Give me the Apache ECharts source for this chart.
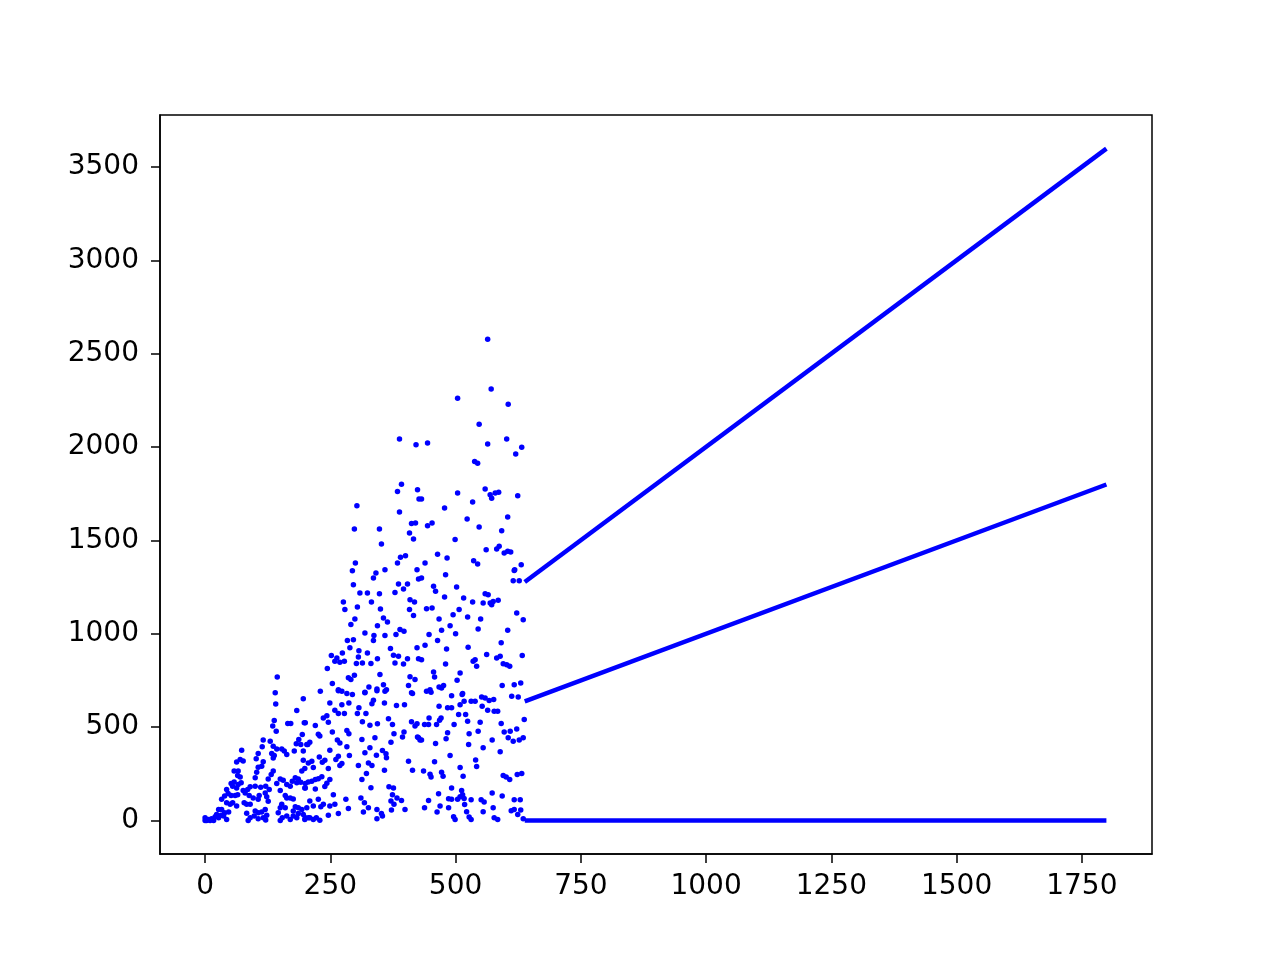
<!DOCTYPE html>
<html>
<head>
<meta charset="utf-8">
<script src="https://cdn.jsdelivr.net/npm/echarts@6/dist/echarts.min.js"></script>
<style>html,body{margin:0;padding:0;background:#fff;}#chart{width:1280px;height:960px;}</style>
</head>
<body>
<div id="chart"></div>
<script>
// Scattered points (x, y)
const scatterPoints = [
[140,683],[141,624],[196,651],[183,589],[138,535],[135,505],[165,519],[171,519],[198,523],[142,478],[194,460],[116,430],[130,424],[187,433],[182,410],[191,406],[114,394],[136,397],[143,383],[153,383],[158,371],[163,353],[178,371],[73,376],[106,358],[133,358],[138,347],[136,334],[196,371],[205,406],[102,330],[116,314],[63,313],[76,318],[70,326],[196,322],[106,285],[113,290],[136,264],[132,246],[126,222],[58,264],[66,264],[103,258],[193,264],[199,278],[100,228],[65,240],[70,233],[150,222],[156,215],[163,192],[170,183],[174,210],[180,228],[186,222],[183,201],[191,204],[143,198],[72,201],[58,205],[52,198],[55,183],[63,174],[66,192],[100,183],[111,178],[121,183],[128,165],[120,147],[85,165],[90,180],[76,160],[80,147],[43,165],[46,144],[52,133],[60,133],[65,138],[150,160],[160,133],[170,120],[176,115],[163,120],[199,174],[108,133],[88,133],[96,120],[106,113],[123,127],[126,103],[33,113],[39,131],[43,95],[50,86],[55,95],[78,95],[83,86],[90,86],[153,86],[150,68],[160,68],[180,73],[186,68],[193,59],[203,68],[176,50],[63,77],[33,59],[27,59],[39,41],[47,45],[23,32],[32,27],[100,50],[106,41],[113,45],[120,59],[83,38],[90,14],[86,0],[98,23],[106,9],[116,14],[123,27],[121,2],[146,41],[154,14],[150,0],[163,23],[170,5],[176,23],[183,14],[186,37],[196,32],[199,5],[206,14],[0,14],[7,5],[13,9],[20,20],[27,14],[37,23],[43,5],[10,0],[3,0],[0,0],[17,0],
[144,768],
[230,692],[266,695],[283,679],[294,674],[319,683],[343,695],[359,692],[414,679],[249,629],[273,620],[287,629],[259,590],[266,572],[278,572],[307,603],[304,572],[321,572],[336,643],[333,625],[358,629],[382,615],[398,620],[236,549],[243,561],[246,526],[220,508],[314,528],[329,510],[344,517],[366,544],[374,514],[412,528],[419,505],[200,523],[254,473],[226,461],[229,452],[283,482],[287,464],[313,433],[339,442],[377,464],[397,473],[394,447],[371,419],[424,446],[429,430],[209,419],[203,406],[264,430],[269,415],[283,394],[329,389],[319,362],[354,375],[361,357],[362,335],[342,349],[249,376],[288,347],[266,344],[261,326],[273,305],[269,294],[228,339],[239,322],[234,312],[213,317],[206,308],[246,278],[216,283],[306,294],[326,308],[333,294],[358,269],[322,251],[313,219],[406,317],[414,269],
[233,234],[226,223],[220,219],[213,210],[206,205],[200,198],
[249,219],[243,199],[239,182],[220,168],[200,174],[331,175],[367,180],[376,174],[374,138],[383,120],[311,120],[318,95],[326,68],[343,59],[281,113],[256,138],[259,86],[249,77],[266,37],[226,113],[209,104],[216,77],[236,86],[231,73],[286,64],[352,37],[354,23],[343,9],[371,104],[377,86],[392,107],[372,55],[399,59],[316,45],[246,27],[200,14],[209,14],[216,5],[222,14],[229,1],
[442,692],[451,686],[492,668],[513,674],[517,638],[509,620],[531,638],[539,638],[552,661],[559,656],[567,642],[576,647],[553,612],[612,665],[625,661],
[467,612],[484,603],[492,603],[471,549],[468,537],[447,549],[506,567],[520,567],[524,531],[564,590],[577,585],[584,585],[549,526],[637,540],[591,519],[423,517],[438,513],[446,513],[462,513],[497,513],[484,469],[481,437],[426,442],[432,430],[527,464],[545,478],[597,473],[609,478],[622,490],[605,442],[615,424],[627,430],[635,442],[573,430],[589,367],[526,406],[555,389],[460,412],[489,348],[458,314],[436,264],[449,247],[451,233],[472,258],[475,237],[509,283],[515,237],[540,324],[542,288],[595,240],[601,233],[608,219],[623,246],[632,251],[492,174],[512,160],[514,138],[517,117],[518,85],[466,143],[486,116],[492,113],[504,113],[509,127],[531,111],[446,107],[438,68],[469,77],[463,45],[486,68],[551,111],[557,98],[573,147],[593,131],[575,68],[617,111],[629,111],[611,51],[617,59],[630,55],[522,46],[527,18],[531,5],[496,20],[499,5],[555,46],[577,14],[584,5],[624,32],[635,9],
[294,1337],[341,1325],[336,1298],[359,1343],[423,1343],[426,1293],[296,1262],[309,1218],[324,1218],[348,1214],[386,1266],[404,1266],[396,1239],[379,1221],[276,1170],[279,1129],[304,1143],[332,1170],[409,1182],[418,1170],[408,1129],[416,1097],[350,1132],[299,1079],[291,1049],[356,1084],[364,1063],[344,1043],[319,1004],[337,990],[336,963],[359,990],[389,1022],[397,1013],[381,995],[284,963],[296,968],[307,909],[289,924],[274,897],[324,897],[306,875],[370,920],[376,884],[386,879],[404,866],[423,924],[426,866],[252,883],[263,870],[259,852],[269,847],[278,852],[302,840],[314,843],[331,840],[344,866],[379,843],[396,838],[244,813],[286,764],[291,755],[298,778],[254,733],[349,781],[356,727],[362,700],[343,704],[409,769],[419,755],[406,723],[327,715],[319,686],[266,700],[273,692],[412,683],
[432,1298],[480,1316],[617,1339],[615,1284],[627,1284],[456,1254],[460,1227],[502,1250],[478,1196],[516,1191],[534,1170],[559,1214],[565,1209],[555,1164],[569,1164],[575,1173],[585,1179],[572,1155],[442,1133],[453,1138],[507,1129],[495,1102],[524,1089],[550,1079],[622,1111],[635,1075],[467,1079],[489,1043],[472,1018],[500,1000],[545,1025],[604,1018],[447,995],[464,964],[439,938],[482,918],[525,927],[591,952],[432,861],[539,861],[535,852],[542,825],[562,888],[582,870],[589,879],[595,839],[602,834],[608,825],[633,883],[480,838],[456,795],[458,768],[509,790],[503,750],[449,700],[467,715],[476,722],[472,709],[514,679],[593,722],[617,727],[630,736],
[392,1801],[384,1762],[424,1771],[427,1721],[303,1685],[388,1652],[298,1561],[348,1561],[412,1590],[420,1593],[408,1539],[416,1507],[352,1480],[300,1378],[390,1410],[400,1417],[384,1378],
[620,1962],[538,1922],[544,1913],[432,1721],[504,1753],[478,1673],[559,1775],[569,1744],[579,1753],[586,1758],[572,1726],[534,1705],[624,1739],[523,1614],[547,1571],[604,1625],[592,1551],[444,1578],[453,1593],[499,1504],[561,1450],[582,1453],[587,1468],[597,1432],[604,1441],[610,1438],[464,1426],[483,1405],[439,1378],[536,1391],[544,1373],[618,1343],[631,1369],
[564,2577],[571,2310],[504,2261],[605,2229],[547,2122],[421,2012],[444,2021],[564,2016],[602,2043],[632,1999],[388,2043]
];

// Dense straight runs for x >= 638 (start and end of each run)
const runX = [638, 1799];
const upperRunY = [1277, 3598];
const middleRunY = [638, 1799];
const lowerRunY = [0, 0];

const xTicks = [0, 250, 500, 750, 1000, 1250, 1500, 1750];
const yTicks = [0, 500, 1000, 1500, 2000, 2500, 3000, 3500];

const runData = ys => runX.map((x, i) => [x, ys[i]]);

const chart = echarts.init(document.getElementById('chart'), null, {renderer: 'canvas'});
const font = {color: '#000', fontSize: 28, fontFamily: 'DejaVu Sans', formatter: v => String(v)};
const lineSeries = ys => ({
  type: 'line', data: runData(ys), showSymbol: false, symbol: 'none',
  lineStyle: {color: '#0000ff', width: 4.5, opacity: 1}, silent: true
});
const axisLine = {show: true, onZero: false, lineStyle: {color: '#000', width: 1.5}};
chart.setOption({
  animation: false,
  backgroundColor: '#fff',
  grid: {left: 160, right: 128, top: 115, bottom: 106, show: true, borderColor: '#000', borderWidth: 1.5, backgroundColor: 'transparent'},
  xAxis: {
    type: 'value', min: -90, max: 1890,
    axisLine: axisLine,
    splitLine: {show: false},
    axisTick: {show: true, inside: false, length: 9, lineStyle: {color: '#000', width: 1.5}, customValues: xTicks},
    axisLabel: Object.assign({margin: 19, customValues: xTicks}, font)
  },
  yAxis: {
    type: 'value', min: -180, max: 3778,
    axisLine: axisLine,
    splitLine: {show: false},
    axisTick: {show: true, inside: false, length: 9, lineStyle: {color: '#000', width: 1.5}, customValues: yTicks},
    axisLabel: Object.assign({margin: 21, customValues: yTicks}, font)
  },
  series: [
    {type: 'scatter', data: scatterPoints, symbolSize: 5.5, itemStyle: {color: '#0000ff', opacity: 1}},
    lineSeries(upperRunY),
    lineSeries(middleRunY),
    lineSeries(lowerRunY)
  ]
});
</script>
</body>
</html>
